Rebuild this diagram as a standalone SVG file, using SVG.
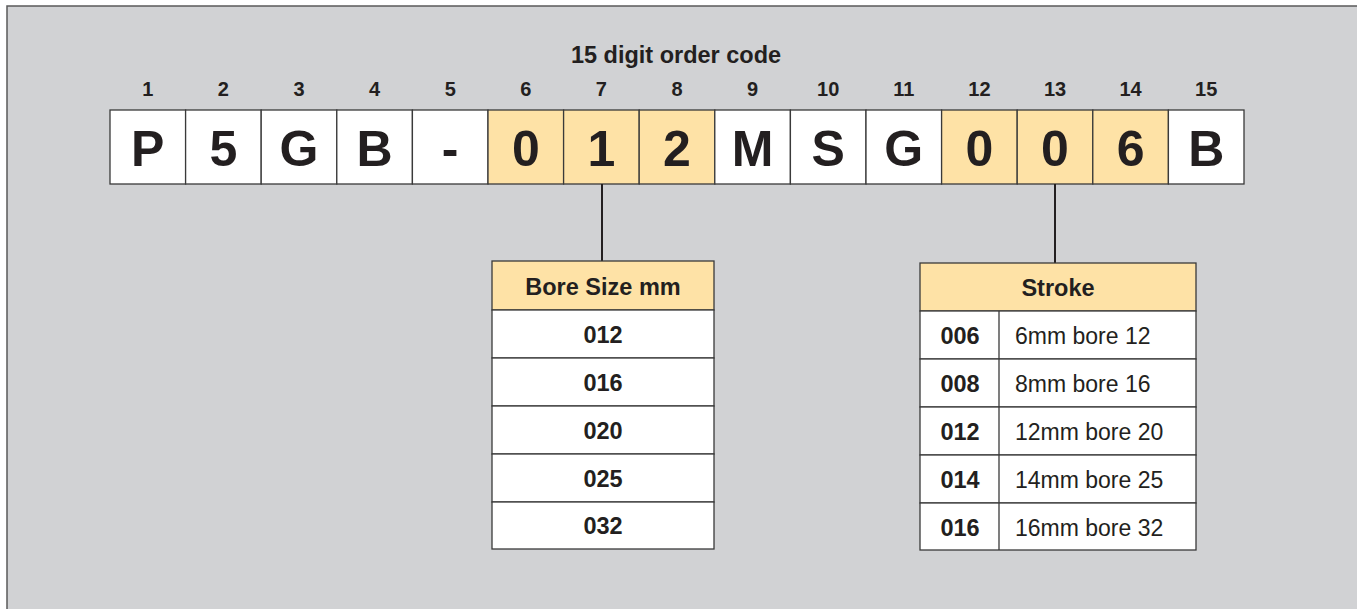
<svg xmlns="http://www.w3.org/2000/svg" width="1357" height="609" viewBox="0 0 1357 609">
<style>
text{font-family:"Liberation Sans",Arial,sans-serif;fill:#231f20}
.c{stroke:#3a3a3a;stroke-width:1.3}
.w{fill:#fff}
.y{fill:#fee2a6}
.d{font-size:50px;font-weight:bold;text-anchor:middle}
.n{font-size:20px;font-weight:bold;text-anchor:middle}
.h{font-size:23.5px;font-weight:bold;text-anchor:middle}
.b{font-size:23.5px;font-weight:bold;text-anchor:middle}
.r{font-size:23px}
.ln{stroke:#231f20;stroke-width:2;fill:none}
</style>
<rect x="0" y="0" width="1357" height="609" fill="#fff"/>
<rect x="7" y="6" width="1370" height="620" fill="#d1d2d4" stroke="#5a5a5a" stroke-width="1.5"/>
<text x="676" y="63" text-anchor="middle" style="font-size:23.5px;font-weight:bold">15 digit order code</text>
<g id="code">
<rect class="c w" x="110" y="110" width="75.6" height="74"/>
<rect class="c w" x="185.6" y="110" width="75.6" height="74"/>
<rect class="c w" x="261.2" y="110" width="75.6" height="74"/>
<rect class="c w" x="336.8" y="110" width="75.6" height="74"/>
<rect class="c w" x="412.4" y="110" width="75.6" height="74"/>
<rect class="c y" x="488" y="110" width="75.6" height="74"/>
<rect class="c y" x="563.6" y="110" width="75.6" height="74"/>
<rect class="c y" x="639.2" y="110" width="75.6" height="74"/>
<rect class="c w" x="714.8" y="110" width="75.6" height="74"/>
<rect class="c w" x="790.4" y="110" width="75.6" height="74"/>
<rect class="c w" x="866" y="110" width="75.6" height="74"/>
<rect class="c y" x="941.6" y="110" width="75.6" height="74"/>
<rect class="c y" x="1017.2" y="110" width="75.6" height="74"/>
<rect class="c y" x="1092.8" y="110" width="75.6" height="74"/>
<rect class="c w" x="1168.4" y="110" width="75.6" height="74"/>
<text class="n" x="147.8" y="96">1</text>
<text class="n" x="223.4" y="96">2</text>
<text class="n" x="299" y="96">3</text>
<text class="n" x="374.6" y="96">4</text>
<text class="n" x="450.2" y="96">5</text>
<text class="n" x="525.8" y="96">6</text>
<text class="n" x="601.4" y="96">7</text>
<text class="n" x="677" y="96">8</text>
<text class="n" x="752.6" y="96">9</text>
<text class="n" x="828.2" y="96">10</text>
<text class="n" x="903.8" y="96">11</text>
<text class="n" x="979.4" y="96">12</text>
<text class="n" x="1055" y="96">13</text>
<text class="n" x="1130.6" y="96">14</text>
<text class="n" x="1206.2" y="96">15</text>
<text class="d" x="147.8" y="166">P</text>
<text class="d" x="223.4" y="166">5</text>
<text class="d" x="299" y="166">G</text>
<text class="d" x="374.6" y="166">B</text>
<text class="d" x="450.2" y="166">-</text>
<text class="d" x="525.8" y="166">0</text>
<text class="d" x="601.4" y="166">1</text>
<text class="d" x="677" y="166">2</text>
<text class="d" x="752.6" y="166">M</text>
<text class="d" x="828.2" y="166">S</text>
<text class="d" x="903.8" y="166">G</text>
<text class="d" x="979.4" y="166">0</text>
<text class="d" x="1055" y="166">0</text>
<text class="d" x="1130.6" y="166">6</text>
<text class="d" x="1206.2" y="166">B</text>
</g>
<g id="connectors">
<line class="ln" x1="602" y1="184" x2="602" y2="261"/>
<line class="ln" x1="1055" y1="184" x2="1055" y2="263"/>
</g>
<g id="bore-table">
<rect class="c y" x="492" y="261" width="222" height="49"/>
<rect class="c w" x="492" y="310" width="222" height="48"/>
<rect class="c w" x="492" y="358" width="222" height="48"/>
<rect class="c w" x="492" y="406" width="222" height="48"/>
<rect class="c w" x="492" y="454" width="222" height="48"/>
<rect class="c w" x="492" y="502" width="222" height="47"/>
<text class="h" x="603" y="295">Bore Size mm</text>
<text class="b" x="603" y="343">012</text>
<text class="b" x="603" y="391">016</text>
<text class="b" x="603" y="439">020</text>
<text class="b" x="603" y="487">025</text>
<text class="b" x="603" y="534">032</text>
</g>
<g id="stroke-table">
<rect class="c y" x="920" y="263" width="276" height="48"/>
<rect class="c w" x="920" y="311" width="276" height="48"/>
<rect class="c w" x="920" y="359" width="276" height="48"/>
<rect class="c w" x="920" y="407" width="276" height="48"/>
<rect class="c w" x="920" y="455" width="276" height="48"/>
<rect class="c w" x="920" y="503" width="276" height="47"/>
<line class="c" x1="999" y1="311" x2="999" y2="550"/>
<text class="h" x="1058" y="296">Stroke</text>
<text class="b" x="960" y="344">006</text>
<text class="b" x="960" y="392">008</text>
<text class="b" x="960" y="440">012</text>
<text class="b" x="960" y="488">014</text>
<text class="b" x="960" y="536">016</text>
<text class="r" x="1015" y="344">6mm bore 12</text>
<text class="r" x="1015" y="392">8mm bore 16</text>
<text class="r" x="1015" y="440">12mm bore 20</text>
<text class="r" x="1015" y="488">14mm bore 25</text>
<text class="r" x="1015" y="536">16mm bore 32</text>
</g>
</svg>
